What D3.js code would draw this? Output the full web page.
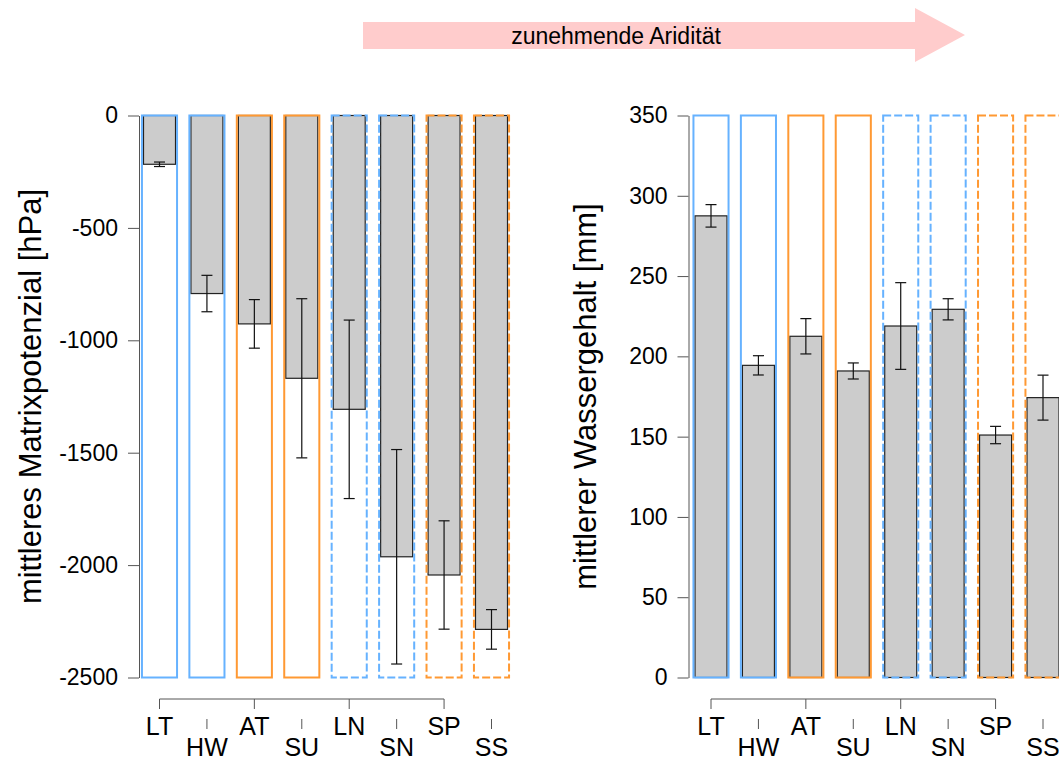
<!DOCTYPE html>
<html>
<head>
<meta charset="utf-8">
<script src="https://cdn.jsdelivr.net/npm/d3@7"></script>
<style>
  body { margin: 0; background: #fff; }
  svg { font-family: "Liberation Sans", Arial, sans-serif; }
</style>
</head>
<body>
<svg id="chart" width="1059" height="760"></svg>
<script>
// sites, ordered by increasing aridity
const sites = ["LT", "HW", "AT", "SU", "LN", "SN", "SP", "SS"];
const climate = ["feucht", "feucht", "trocken", "trocken", "feucht", "feucht", "trocken", "trocken"];
const period = ["I", "I", "I", "I", "II", "II", "II", "II"];

// mean matric potential [hPa] and error
const matrixMean = [-217, -792, -927, -1169, -1307, -1963, -2044, -2286];
const matrixErr = [10, 81, 108, 354, 397, 477, 241, 88];

// mean water content [mm] and error
const waterMean = [287.5, 194.4, 212.5, 190.9, 218.9, 229.3, 151, 174.3];
const waterErr = [7, 6, 11, 5, 27, 6.6, 5.4, 14];

const matrixTicks = [0, -500, -1000, -1500, -2000, -2500];
const waterTicks = [0, 50, 100, 150, 200, 250, 300, 350];

const upperLabels = ["LT", "AT", "LN", "SP"];
const lowerLabels = ["HW", "SU", "SN", "SS"];

let svg = d3.select("#chart");

let colorScale = d3.scaleOrdinal()
  .domain(["feucht", "trocken"])
  .range(["#66b2ff", "#ff9933"]);
let dashScale = d3.scaleOrdinal()
  .domain(["I", "II"])
  .range(["none", "8,3"]);

// aridity arrow
function drawArrow() {
  let g = svg.append("g");
  let pts = [[363, 22], [915, 22], [915, 8], [965, 35], [915, 62], [915, 49], [363, 49]];
  g.append("path")
    .attr("d", d3.line()(pts) + "Z")
    .attr("fill", "#ffcccc");
  g.append("text")
    .attr("x", 616).attr("y", 36)
    .attr("dy", "0.35em")
    .attr("text-anchor", "middle")
    .attr("font-size", 23)
    .text("zunehmende Aridität");
}

function drawPanel(cfg) {
  let {left, right, yDomain, fillFrom, outlineFrom, outlineTo, means, errs, ticks, title, axisX, titleX} = cfg;
  let top = 115.5, bottom = 677.5;

  let x = d3.scalePoint().domain(sites).range([left, right]);
  let y = d3.scaleLinear().domain(yDomain).range([bottom, top]);
  let step = x.step();
  let barW = step * 0.675;
  let boxW = step * 0.74;

  let data = sites.map((s, i) => ({
    site: s, mean: means[i], err: errs[i], climate: climate[i], period: period[i]
  }));

  let g = svg.append("g");

  // grey bars
  g.selectAll("rect.bar").data(data).enter().append("rect")
    .attr("class", "bar")
    .attr("x", d => x(d.site) - barW / 2)
    .attr("width", barW)
    .attr("y", d => Math.min(y(d.mean), y(fillFrom)))
    .attr("height", d => Math.abs(y(d.mean) - y(fillFrom)))
    .attr("fill", "#cccccc")
    .attr("stroke", "#222")
    .attr("stroke-width", 1.2);

  // coloured outline boxes
  g.selectAll("rect.box").data(data).enter().append("rect")
    .attr("class", "box")
    .attr("x", d => x(d.site) - boxW / 2)
    .attr("width", boxW)
    .attr("y", y(outlineTo))
    .attr("height", y(outlineFrom) - y(outlineTo))
    .attr("fill", "none")
    .attr("stroke", d => colorScale(d.climate))
    .attr("stroke-width", 2)
    .attr("stroke-dasharray", d => dashScale(d.period));

  // error bars
  let eb = g.selectAll("g.err").data(data).enter().append("g")
    .attr("stroke", "#111").attr("stroke-width", 1.2);
  eb.append("line")
    .attr("x1", d => x(d.site)).attr("x2", d => x(d.site))
    .attr("y1", d => y(d.mean - d.err)).attr("y2", d => y(d.mean + d.err));
  eb.append("line")
    .attr("x1", d => x(d.site) - 5.5).attr("x2", d => x(d.site) + 5.5)
    .attr("y1", d => y(d.mean - d.err)).attr("y2", d => y(d.mean - d.err));
  eb.append("line")
    .attr("x1", d => x(d.site) - 5.5).attr("x2", d => x(d.site) + 5.5)
    .attr("y1", d => y(d.mean + d.err)).attr("y2", d => y(d.mean + d.err));

  // y axis
  let yAxis = svg.append("g")
    .attr("transform", `translate(${axisX},0)`)
    .call(d3.axisLeft(y).tickValues(ticks).tickSize(11).tickSizeOuter(0).tickPadding(10)
      .tickFormat(d3.format("d")));
  yAxis.selectAll("text").attr("font-size", 23).attr("fill", "#000")
    .text(d => String(d).replace("\u2212", "-"));
  yAxis.select(".domain").attr("stroke", "#555");
  yAxis.selectAll(".tick line").attr("stroke", "#555");

  // x axis: upper labels with main line, lower labels with short ticks
  let xg = svg.append("g");
  xg.append("line")
    .attr("x1", x(upperLabels[0])).attr("x2", x(upperLabels[upperLabels.length - 1]))
    .attr("y1", 699).attr("y2", 699)
    .attr("stroke", "#555");
  let up = xg.selectAll("g.up").data(upperLabels).enter().append("g")
    .attr("transform", d => `translate(${x(d)},0)`);
  up.append("line").attr("y1", 699).attr("y2", 709).attr("stroke", "#555");
  up.append("text").attr("y", 735).attr("text-anchor", "middle")
    .attr("font-size", 25).text(d => d);
  let lo = xg.selectAll("g.lo").data(lowerLabels).enter().append("g")
    .attr("transform", d => `translate(${x(d)},0)`);
  lo.append("line").attr("y1", 719).attr("y2", 729).attr("stroke", "#555");
  lo.append("text").attr("y", 756).attr("text-anchor", "middle")
    .attr("font-size", 25).text(d => d);

  // axis title
  svg.append("text")
    .attr("transform", `translate(${titleX},${(top + bottom) / 2}) rotate(-90)`)
    .attr("text-anchor", "middle")
    .attr("dy", "0.35em")
    .attr("font-size", 31)
    .text(title);
}

drawArrow();

drawPanel({
  left: 159.5, right: 491.5,
  yDomain: [-2500, 0], fillFrom: 0, outlineFrom: -2500, outlineTo: 0,
  means: matrixMean, errs: matrixErr, ticks: matrixTicks,
  title: "mittleres Matrixpotenzial [hPa]", axisX: 139, titleX: 30
});

drawPanel({
  left: 711, right: 1043,
  yDomain: [0, 350], fillFrom: 0, outlineFrom: 0, outlineTo: 350,
  means: waterMean, errs: waterErr, ticks: waterTicks,
  title: "mittlerer Wassergehalt [mm]", axisX: 688.5, titleX: 585
});
</script>
</body>
</html>
